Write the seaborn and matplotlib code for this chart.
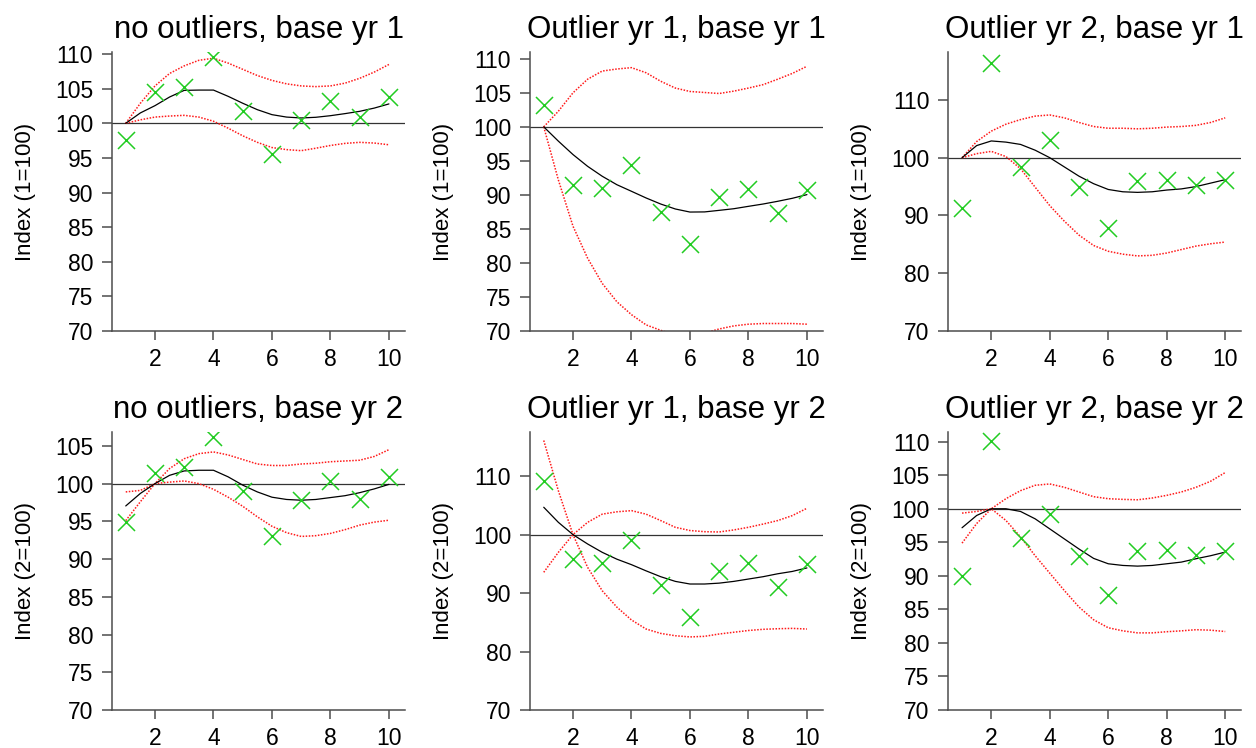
import matplotlib
matplotlib.use("Agg")
import matplotlib.pyplot as plt
import seaborn as sns
import pandas as pd

# ---------------- data ----------------
years = [1, 2, 3, 4, 5, 6, 7, 8, 9, 10]
grid = [1, 1.5, 2, 2.5, 3, 3.5, 4, 4.5, 5, 5.5, 6, 6.5, 7, 7.5, 8, 8.5, 9, 9.5, 10]

titles = ["no outliers, base yr 1", "Outlier yr 1, base yr 1", "Outlier yr 2, base yr 1",
          "no outliers, base yr 2", "Outlier yr 1, base yr 2", "Outlier yr 2, base yr 2"]
ylabels = ["Index (1=100)"] * 3 + ["Index (2=100)"] * 3

# panel 1
p1_points = [97.55, 104.48, 105.25, 109.58, 101.83, 95.62, 100.53, 103.22, 100.91, 103.75]
p1_mid = [100.0, 101.5, 102.55, 103.8, 104.76, 104.8, 104.8, 103.9, 102.9, 101.97, 101.25,
          100.9, 100.77, 100.87, 101.1, 101.4, 101.73, 102.2, 102.8]
p1_a = [100.0, 102.9, 105.4, 107.2, 108.3, 109.1, 109.4, 108.7, 107.8, 106.9, 106.2,
        105.7, 105.4, 105.3, 105.4, 105.8, 106.5, 107.4, 108.5]
p1_b = [100.0, 100.5, 100.9, 101.05, 101.15, 100.9, 100.3, 99.3, 98.2, 97.25, 96.5,
        96.2, 96.05, 96.4, 96.8, 97.1, 97.25, 97.15, 96.9]

# panel 2
p2_points = [103.24, 91.41, 90.97, 94.4, 87.48, 82.82, 89.69, 90.92, 87.29, 90.77]
p2_mid = [100.0, 97.9, 95.93, 94.2, 92.74, 91.5, 90.53, 89.55, 88.66, 87.93, 87.48,
          87.5, 87.73, 87.97, 88.32, 88.66, 89.06, 89.5, 90.04]
p2_a = [100.0, 102.3, 105.0, 107.0, 108.2, 108.5, 108.7, 107.95, 106.7, 105.7, 105.2,
        105.05, 104.9, 105.25, 105.7, 106.2, 107.0, 107.85, 108.9]
p2_b = [100.0, 92.2, 85.4, 80.7, 77.0, 74.3, 72.4, 70.9, 70.1, 69.4, 69.2,
        69.7, 70.3, 70.75, 71.0, 71.1, 71.1, 71.1, 71.0]

# panel 3
p3_points = [91.23, 116.39, 98.38, 103.0, 94.92, 87.82, 95.96, 96.19, 95.33, 96.08]
p3_mid = [100.0, 102.1, 102.9, 102.7, 102.3, 101.3, 100.0, 98.4, 96.8, 95.5, 94.5,
          94.1, 94.0, 94.1, 94.4, 94.6, 95.0, 95.6, 96.2]
p3_a = [100.0, 102.8, 104.6, 105.8, 106.6, 107.2, 107.4, 106.9, 106.1, 105.4, 105.1,
        105.1, 105.0, 105.1, 105.3, 105.4, 105.6, 106.1, 106.9]
p3_b = [100.0, 100.7, 101.1, 100.2, 98.1, 94.9, 91.7, 89.0, 86.6, 84.8, 83.8,
        83.3, 83.0, 83.1, 83.5, 84.1, 84.7, 85.1, 85.4]

# panel 4
p4_points = [94.93, 101.41, 102.2, 106.18, 99.03, 93.07, 97.79, 100.31, 98.01, 100.88]
p4_mid = [97.04, 98.7, 100.0, 101.1, 101.68, 101.77, 101.77, 100.9, 99.8, 98.9, 98.2,
          97.9, 97.8, 97.9, 98.15, 98.4, 98.8, 99.3, 99.9]
p4_a = [95.1, 97.6, 100.0, 102.0, 103.3, 103.97, 104.2, 103.8, 103.2, 102.6, 102.4,
        102.4, 102.6, 102.7, 102.9, 103.0, 103.1, 103.6, 104.5]
p4_b = [98.9, 99.1, 100.0, 100.2, 100.35, 100.0, 99.25, 98.2, 97.0, 95.6, 94.35,
        93.5, 93.0, 93.1, 93.4, 93.9, 94.5, 94.9, 95.15]

# panel 5
p5_points = [109.25, 95.78, 95.21, 99.14, 91.32, 85.84, 93.72, 95.21, 91.1, 94.98]
p5_mid = [104.68, 102.1, 100.0, 98.4, 96.97, 95.8, 94.86, 93.8, 92.8, 92.0, 91.55,
          91.55, 91.7, 92.0, 92.4, 92.8, 93.3, 93.7, 94.3]
p5_a = [116.1, 107.5, 100.0, 94.4, 90.4, 87.6, 85.4, 83.85, 83.1, 82.7, 82.5,
        82.6, 83.0, 83.3, 83.6, 83.8, 83.9, 83.96, 83.85]
p5_b = [93.55, 96.97, 100.0, 102.1, 103.5, 103.9, 104.1, 103.5, 102.4, 101.25, 100.7,
        100.5, 100.45, 100.8, 101.25, 101.8, 102.4, 103.25, 104.5]

# panel 6
p6_points = [89.92, 110.03, 95.63, 99.25, 92.9, 87.13, 93.64, 93.79, 93.14, 93.64]
p6_mid = [97.17, 99.0, 100.0, 100.0, 99.6, 98.5, 97.0, 95.5, 94.0, 92.6, 91.8,
          91.55, 91.45, 91.55, 91.8, 92.05, 92.55, 93.0, 93.54]
p6_a = [94.88, 97.8, 100.0, 101.5, 102.7, 103.5, 103.7, 103.2, 102.5, 101.8, 101.5,
        101.4, 101.34, 101.6, 102.0, 102.5, 103.2, 104.1, 105.4]
p6_b = [99.35, 99.6, 100.0, 98.26, 95.8, 93.0, 90.4, 87.8, 85.35, 83.45, 82.26,
        81.8, 81.5, 81.5, 81.67, 81.8, 81.97, 81.9, 81.7]

panels = [
    (p1_points, p1_mid, p1_a, p1_b),
    (p2_points, p2_mid, p2_a, p2_b),
    (p3_points, p3_mid, p3_a, p3_b),
    (p4_points, p4_mid, p4_a, p4_b),
    (p5_points, p5_mid, p5_a, p5_b),
    (p6_points, p6_mid, p6_a, p6_b),
]

ytop = [110.3, 111.0, 118.3, 106.8, 117.5, 111.4]
yticks = [
    [70, 75, 80, 85, 90, 95, 100, 105, 110],
    [70, 75, 80, 85, 90, 95, 100, 105, 110],
    [70, 80, 90, 100, 110],
    [70, 75, 80, 85, 90, 95, 100, 105],
    [70, 80, 90, 100, 110],
    [70, 75, 80, 85, 90, 95, 100, 105, 110],
]

# ---------------- style ----------------
sns.set_style("ticks")
plt.rcParams["font.family"] = ["Liberation Sans", "DejaVu Sans"]
plt.rcParams["text.color"] = "black"
plt.rcParams["axes.labelcolor"] = "black"
plt.rcParams["xtick.labelcolor"] = "black"
plt.rcParams["ytick.labelcolor"] = "black"

fig = plt.figure(figsize=(12.56, 7.48), dpi=100)

W, H = 1256, 748
lefts = [112, 530, 948.3]
row_top = [52, 432.3]
row_bot = [331, 710]
axw = 293

spine_col = "#4d4d4d"

for i, (pts, mid, a, b) in enumerate(panels):
    r, c = divmod(i, 3)
    ax = fig.add_axes([lefts[c] / W, 1 - row_bot[r] / H, axw / W, (row_bot[r] - row_top[r]) / H])

    ax.axhline(100, color="#333333", lw=0.9, zorder=1)

    df_lines = pd.DataFrame({"x": grid, "mid": mid, "a": a, "b": b})
    sns.lineplot(data=df_lines, x="x", y="a", ax=ax, color="#ff1a1a", lw=1.1,
                 linestyle=(0, (1, 1)), estimator=None, sort=False, zorder=2)
    sns.lineplot(data=df_lines, x="x", y="b", ax=ax, color="#ff1a1a", lw=1.1,
                 linestyle=(0, (1, 1)), estimator=None, sort=False, zorder=2)
    sns.lineplot(data=df_lines, x="x", y="mid", ax=ax, color="black", lw=0.9,
                 estimator=None, sort=False, zorder=3)

    df_pts = pd.DataFrame({"x": years, "y": pts})
    sns.scatterplot(data=df_pts, x="x", y="y", ax=ax, marker="x", s=150,
                    color="#22cc22", linewidth=1.1, zorder=4)

    ax.set_xlim(0.53, 10.55)
    ax.set_ylim(70, ytop[i])
    ax.set_xticks([2, 4, 6, 8, 10])
    ax.set_yticks(yticks[i])
    ax.tick_params(axis="both", direction="out", labelsize=16.5, width=1.1,
                   color=spine_col, pad=6)
    ax.tick_params(axis="y", length=7.5)
    ax.tick_params(axis="x", length=6.5)
    for s in ("top", "right"):
        ax.spines[s].set_visible(False)
    for s in ("left", "bottom"):
        ax.spines[s].set_color(spine_col)
        ax.spines[s].set_linewidth(1.1)
    ax.set_xlabel("")
    ax.set_ylabel(ylabels[i], fontsize=16, labelpad=14)
    ax.set_title(titles[i], fontsize=22.5, pad=10)

fig.savefig("out.png", dpi=100)
